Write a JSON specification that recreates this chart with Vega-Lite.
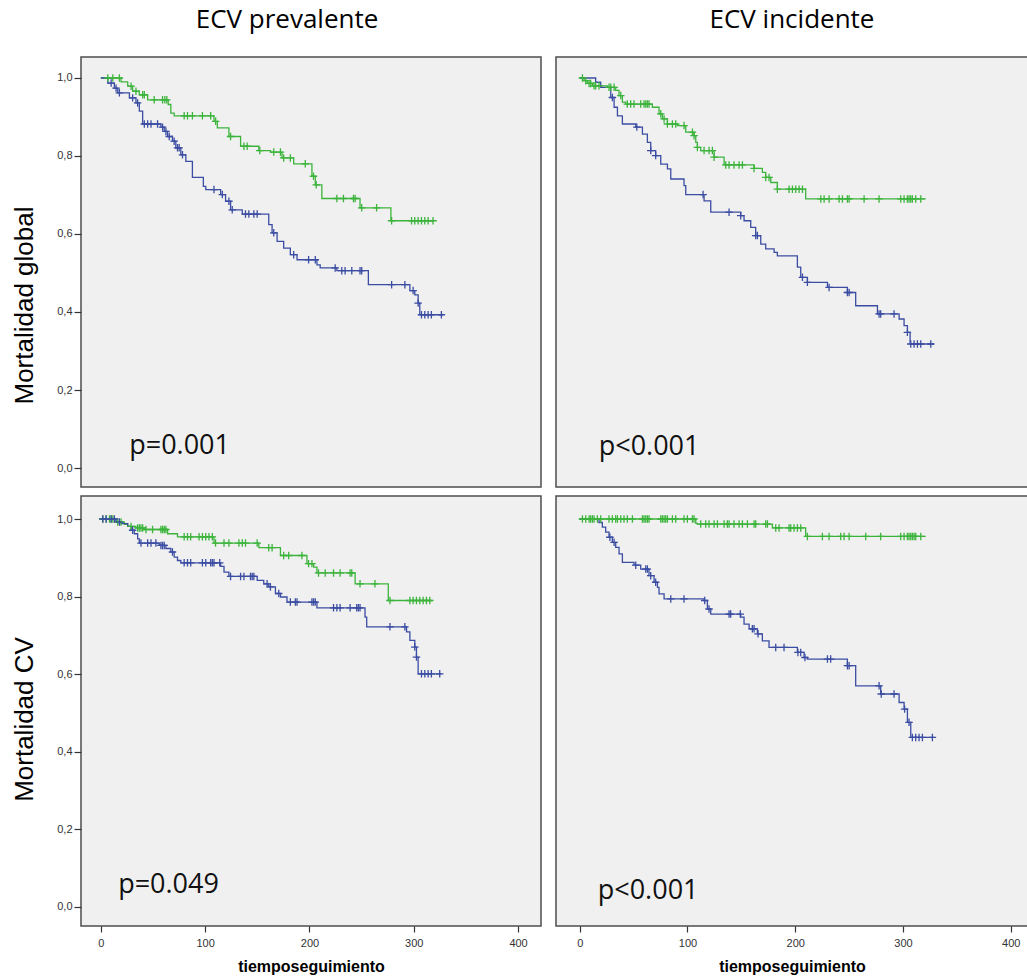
{
  "$schema": "https://vega.github.io/schema/vega-lite/v6.json",
  "background": "white",
  "padding": {"left": 10, "top": 6, "right": 0, "bottom": 0},
  "datasets": {
    "km": [
      {"p":"TL","g":"A","t":0,"s":1.0},{"p":"TL","g":"A","t":19.4,"s":0.990},{"p":"TL","g":"A","t":25.8,"s":0.979},{"p":"TL","g":"A","t":30.5,"s":0.966},{"p":"TL","g":"A","t":36.9,"s":0.957},{"p":"TL","g":"A","t":44.9,"s":0.944},{"p":"TL","g":"A","t":64.6,"s":0.932},{"p":"TL","g":"A","t":67.1,"s":0.910},{"p":"TL","g":"A","t":70.3,"s":0.903},{"p":"TL","g":"A","t":108.5,"s":0.889},{"p":"TL","g":"A","t":111.7,"s":0.872},{"p":"TL","g":"A","t":122.8,"s":0.850},{"p":"TL","g":"A","t":134.0,"s":0.825},{"p":"TL","g":"A","t":151.5,"s":0.814},{"p":"TL","g":"A","t":162.6,"s":0.810},{"p":"TL","g":"A","t":173.7,"s":0.795},{"p":"TL","g":"A","t":184.9,"s":0.780},{"p":"TL","g":"A","t":202.4,"s":0.748},{"p":"TL","g":"A","t":205.6,"s":0.726},{"p":"TL","g":"A","t":211.9,"s":0.691},{"p":"TL","g":"A","t":248.5,"s":0.667},{"p":"TL","g":"A","t":278.1,"s":0.634},{"p":"TL","g":"A","t":319.2,"s":0.634},
      {"p":"TL","g":"B","t":0,"s":1.0},{"p":"TL","g":"B","t":6.7,"s":0.987},{"p":"TL","g":"B","t":13.0,"s":0.974},{"p":"TL","g":"B","t":16.2,"s":0.962},{"p":"TL","g":"B","t":27.4,"s":0.949},{"p":"TL","g":"B","t":33.7,"s":0.936},{"p":"TL","g":"B","t":36.9,"s":0.915},{"p":"TL","g":"B","t":40.1,"s":0.882},{"p":"TL","g":"B","t":57.6,"s":0.874},{"p":"TL","g":"B","t":60.8,"s":0.863},{"p":"TL","g":"B","t":64.0,"s":0.850},{"p":"TL","g":"B","t":68.7,"s":0.838},{"p":"TL","g":"B","t":71.9,"s":0.821},{"p":"TL","g":"B","t":76.7,"s":0.803},{"p":"TL","g":"B","t":81.5,"s":0.786},{"p":"TL","g":"B","t":87.8,"s":0.745},{"p":"TL","g":"B","t":98.3,"s":0.722},{"p":"TL","g":"B","t":100.6,"s":0.714},{"p":"TL","g":"B","t":114.9,"s":0.701},{"p":"TL","g":"B","t":119.6,"s":0.684},{"p":"TL","g":"B","t":124.4,"s":0.662},{"p":"TL","g":"B","t":135.6,"s":0.651},{"p":"TL","g":"B","t":161.0,"s":0.624},{"p":"TL","g":"B","t":164.2,"s":0.603},{"p":"TL","g":"B","t":169.0,"s":0.581},{"p":"TL","g":"B","t":175.3,"s":0.564},{"p":"TL","g":"B","t":181.7,"s":0.547},{"p":"TL","g":"B","t":188.1,"s":0.534},{"p":"TL","g":"B","t":207.2,"s":0.521},{"p":"TL","g":"B","t":210.3,"s":0.513},{"p":"TL","g":"B","t":226.3,"s":0.506},{"p":"TL","g":"B","t":256.5,"s":0.470},{"p":"TL","g":"B","t":296.3,"s":0.455},{"p":"TL","g":"B","t":301.0,"s":0.444},{"p":"TL","g":"B","t":304.2,"s":0.423},{"p":"TL","g":"B","t":305.8,"s":0.393},{"p":"TL","g":"B","t":328.1,"s":0.393},
      {"p":"TR","g":"A","t":0,"s":1.0},{"p":"TR","g":"A","t":4.0,"s":0.993},{"p":"TR","g":"A","t":7.1,"s":0.986},{"p":"TR","g":"A","t":11.8,"s":0.980},{"p":"TR","g":"A","t":25.7,"s":0.976},{"p":"TR","g":"A","t":33.4,"s":0.968},{"p":"TR","g":"A","t":36.5,"s":0.955},{"p":"TR","g":"A","t":39.6,"s":0.938},{"p":"TR","g":"A","t":42.7,"s":0.933},{"p":"TR","g":"A","t":67.4,"s":0.925},{"p":"TR","g":"A","t":73.6,"s":0.908},{"p":"TR","g":"A","t":76.7,"s":0.895},{"p":"TR","g":"A","t":81.4,"s":0.882},{"p":"TR","g":"A","t":90.6,"s":0.878},{"p":"TR","g":"A","t":98.4,"s":0.861},{"p":"TR","g":"A","t":106.1,"s":0.852},{"p":"TR","g":"A","t":107.7,"s":0.835},{"p":"TR","g":"A","t":109.2,"s":0.822},{"p":"TR","g":"A","t":112.3,"s":0.814},{"p":"TR","g":"A","t":124.7,"s":0.797},{"p":"TR","g":"A","t":134.0,"s":0.777},{"p":"TR","g":"A","t":161.8,"s":0.768},{"p":"TR","g":"A","t":169.5,"s":0.758},{"p":"TR","g":"A","t":172.6,"s":0.745},{"p":"TR","g":"A","t":177.3,"s":0.732},{"p":"TR","g":"A","t":183.4,"s":0.715},{"p":"TR","g":"A","t":209.7,"s":0.690},{"p":"TR","g":"A","t":321.1,"s":0.690},
      {"p":"TR","g":"B","t":0,"s":1.0},{"p":"TR","g":"B","t":14.8,"s":0.989},{"p":"TR","g":"B","t":19.5,"s":0.976},{"p":"TR","g":"B","t":28.8,"s":0.950},{"p":"TR","g":"B","t":31.9,"s":0.925},{"p":"TR","g":"B","t":35.0,"s":0.903},{"p":"TR","g":"B","t":39.6,"s":0.882},{"p":"TR","g":"B","t":52.0,"s":0.874},{"p":"TR","g":"B","t":58.2,"s":0.856},{"p":"TR","g":"B","t":62.8,"s":0.835},{"p":"TR","g":"B","t":65.9,"s":0.814},{"p":"TR","g":"B","t":70.5,"s":0.801},{"p":"TR","g":"B","t":75.2,"s":0.779},{"p":"TR","g":"B","t":81.4,"s":0.767},{"p":"TR","g":"B","t":84.5,"s":0.741},{"p":"TR","g":"B","t":96.8,"s":0.724},{"p":"TR","g":"B","t":98.4,"s":0.701},{"p":"TR","g":"B","t":115.4,"s":0.685},{"p":"TR","g":"B","t":121.6,"s":0.656},{"p":"TR","g":"B","t":149.4,"s":0.647},{"p":"TR","g":"B","t":152.5,"s":0.634},{"p":"TR","g":"B","t":158.7,"s":0.617},{"p":"TR","g":"B","t":163.3,"s":0.596},{"p":"TR","g":"B","t":168.0,"s":0.574},{"p":"TR","g":"B","t":172.6,"s":0.562},{"p":"TR","g":"B","t":180.4,"s":0.553},{"p":"TR","g":"B","t":183.4,"s":0.544},{"p":"TR","g":"B","t":202.0,"s":0.515},{"p":"TR","g":"B","t":205.1,"s":0.489},{"p":"TR","g":"B","t":211.3,"s":0.476},{"p":"TR","g":"B","t":229.9,"s":0.463},{"p":"TR","g":"B","t":248.4,"s":0.450},{"p":"TR","g":"B","t":256.1,"s":0.416},{"p":"TR","g":"B","t":276.3,"s":0.395},{"p":"TR","g":"B","t":296.4,"s":0.382},{"p":"TR","g":"B","t":301.0,"s":0.365},{"p":"TR","g":"B","t":304.1,"s":0.348},{"p":"TR","g":"B","t":306.6,"s":0.318},{"p":"TR","g":"B","t":328.8,"s":0.318},
      {"p":"BL","g":"A","t":0,"s":1.0},{"p":"BL","g":"A","t":14.6,"s":0.992},{"p":"BL","g":"A","t":22.6,"s":0.986},{"p":"BL","g":"A","t":25.8,"s":0.981},{"p":"BL","g":"A","t":33.7,"s":0.977},{"p":"BL","g":"A","t":41.7,"s":0.973},{"p":"BL","g":"A","t":64.0,"s":0.962},{"p":"BL","g":"A","t":73.5,"s":0.954},{"p":"BL","g":"A","t":108.5,"s":0.938},{"p":"BL","g":"A","t":151.5,"s":0.926},{"p":"BL","g":"A","t":172.2,"s":0.906},{"p":"BL","g":"A","t":197.6,"s":0.885},{"p":"BL","g":"A","t":204.0,"s":0.876},{"p":"BL","g":"A","t":207.2,"s":0.861},{"p":"BL","g":"A","t":243.8,"s":0.833},{"p":"BL","g":"A","t":275.6,"s":0.790},{"p":"BL","g":"A","t":317.9,"s":0.790},
      {"p":"BL","g":"B","t":0,"s":1.0},{"p":"BL","g":"B","t":14.6,"s":0.992},{"p":"BL","g":"B","t":19.4,"s":0.988},{"p":"BL","g":"B","t":25.8,"s":0.981},{"p":"BL","g":"B","t":29.0,"s":0.971},{"p":"BL","g":"B","t":32.1,"s":0.962},{"p":"BL","g":"B","t":35.3,"s":0.949},{"p":"BL","g":"B","t":36.9,"s":0.938},{"p":"BL","g":"B","t":56.0,"s":0.932},{"p":"BL","g":"B","t":62.4,"s":0.924},{"p":"BL","g":"B","t":67.1,"s":0.915},{"p":"BL","g":"B","t":70.3,"s":0.902},{"p":"BL","g":"B","t":73.5,"s":0.893},{"p":"BL","g":"B","t":76.7,"s":0.887},{"p":"BL","g":"B","t":114.9,"s":0.878},{"p":"BL","g":"B","t":118.1,"s":0.863},{"p":"BL","g":"B","t":122.8,"s":0.852},{"p":"BL","g":"B","t":149.9,"s":0.842},{"p":"BL","g":"B","t":156.2,"s":0.833},{"p":"BL","g":"B","t":161.0,"s":0.825},{"p":"BL","g":"B","t":167.4,"s":0.808},{"p":"BL","g":"B","t":172.2,"s":0.799},{"p":"BL","g":"B","t":178.5,"s":0.786},{"p":"BL","g":"B","t":207.2,"s":0.771},{"p":"BL","g":"B","t":253.3,"s":0.747},{"p":"BL","g":"B","t":254.9,"s":0.722},{"p":"BL","g":"B","t":293.1,"s":0.709},{"p":"BL","g":"B","t":296.3,"s":0.687},{"p":"BL","g":"B","t":301.0,"s":0.670},{"p":"BL","g":"B","t":302.6,"s":0.644},{"p":"BL","g":"B","t":304.2,"s":0.601},{"p":"BL","g":"B","t":326.5,"s":0.601},
      {"p":"BR","g":"A","t":0,"s":1.0},{"p":"BR","g":"A","t":107.7,"s":0.989},{"p":"BR","g":"A","t":109.2,"s":0.987},{"p":"BR","g":"A","t":178.8,"s":0.977},{"p":"BR","g":"A","t":209.7,"s":0.955},{"p":"BR","g":"A","t":321.1,"s":0.955},
      {"p":"BR","g":"B","t":0,"s":1.0},{"p":"BR","g":"B","t":17.9,"s":0.991},{"p":"BR","g":"B","t":21.0,"s":0.979},{"p":"BR","g":"B","t":24.1,"s":0.966},{"p":"BR","g":"B","t":27.2,"s":0.953},{"p":"BR","g":"B","t":30.3,"s":0.940},{"p":"BR","g":"B","t":33.4,"s":0.927},{"p":"BR","g":"B","t":36.5,"s":0.910},{"p":"BR","g":"B","t":39.6,"s":0.888},{"p":"BR","g":"B","t":50.4,"s":0.881},{"p":"BR","g":"B","t":56.6,"s":0.871},{"p":"BR","g":"B","t":64.3,"s":0.854},{"p":"BR","g":"B","t":69.0,"s":0.837},{"p":"BR","g":"B","t":72.1,"s":0.824},{"p":"BR","g":"B","t":73.6,"s":0.807},{"p":"BR","g":"B","t":78.3,"s":0.794},{"p":"BR","g":"B","t":115.4,"s":0.790},{"p":"BR","g":"B","t":118.5,"s":0.768},{"p":"BR","g":"B","t":121.6,"s":0.755},{"p":"BR","g":"B","t":149.4,"s":0.747},{"p":"BR","g":"B","t":152.5,"s":0.729},{"p":"BR","g":"B","t":157.2,"s":0.717},{"p":"BR","g":"B","t":164.9,"s":0.704},{"p":"BR","g":"B","t":169.5,"s":0.686},{"p":"BR","g":"B","t":175.7,"s":0.669},{"p":"BR","g":"B","t":202.0,"s":0.656},{"p":"BR","g":"B","t":208.2,"s":0.643},{"p":"BR","g":"B","t":211.3,"s":0.639},{"p":"BR","g":"B","t":248.4,"s":0.622},{"p":"BR","g":"B","t":256.1,"s":0.570},{"p":"BR","g":"B","t":279.3,"s":0.549},{"p":"BR","g":"B","t":296.4,"s":0.527},{"p":"BR","g":"B","t":301.0,"s":0.510},{"p":"BR","g":"B","t":304.1,"s":0.476},{"p":"BR","g":"B","t":307.2,"s":0.437},{"p":"BR","g":"B","t":328.8,"s":0.437}
    ],
    "cz": [
      {"p":"TL","g":"A","t":6.7,"s":1.0},{"p":"TL","g":"A","t":11.5,"s":1.0},{"p":"TL","g":"A","t":17.8,"s":1.0},{"p":"TL","g":"A","t":29.0,"s":0.979},{"p":"TL","g":"A","t":33.7,"s":0.966},{"p":"TL","g":"A","t":40.1,"s":0.957},{"p":"TL","g":"A","t":41.7,"s":0.957},{"p":"TL","g":"A","t":51.2,"s":0.944},{"p":"TL","g":"A","t":59.2,"s":0.944},{"p":"TL","g":"A","t":61.4,"s":0.944},{"p":"TL","g":"A","t":63.3,"s":0.944},{"p":"TL","g":"A","t":79.9,"s":0.903},{"p":"TL","g":"A","t":83.1,"s":0.903},{"p":"TL","g":"A","t":87.8,"s":0.903},{"p":"TL","g":"A","t":97.4,"s":0.903},{"p":"TL","g":"A","t":105.3,"s":0.903},{"p":"TL","g":"A","t":110.1,"s":0.889},{"p":"TL","g":"A","t":124.4,"s":0.850},{"p":"TL","g":"A","t":137.2,"s":0.825},{"p":"TL","g":"A","t":140.3,"s":0.825},{"p":"TL","g":"A","t":152.4,"s":0.814},{"p":"TL","g":"A","t":165.8,"s":0.810},{"p":"TL","g":"A","t":172.2,"s":0.810},{"p":"TL","g":"A","t":175.3,"s":0.795},{"p":"TL","g":"A","t":181.7,"s":0.795},{"p":"TL","g":"A","t":196.0,"s":0.780},{"p":"TL","g":"A","t":203.9,"s":0.748},{"p":"TL","g":"A","t":206.5,"s":0.726},{"p":"TL","g":"A","t":226.3,"s":0.691},{"p":"TL","g":"A","t":232.6,"s":0.691},{"p":"TL","g":"A","t":242.2,"s":0.691},{"p":"TL","g":"A","t":243.8,"s":0.691},{"p":"TL","g":"A","t":250.1,"s":0.667},{"p":"TL","g":"A","t":264.4,"s":0.667},{"p":"TL","g":"A","t":278.8,"s":0.634},{"p":"TL","g":"A","t":297.9,"s":0.634},{"p":"TL","g":"A","t":301.0,"s":0.634},{"p":"TL","g":"A","t":304.2,"s":0.634},{"p":"TL","g":"A","t":307.4,"s":0.634},{"p":"TL","g":"A","t":310.6,"s":0.634},{"p":"TL","g":"A","t":313.8,"s":0.634},{"p":"TL","g":"A","t":318.5,"s":0.634},
      {"p":"TL","g":"B","t":9.9,"s":0.987},{"p":"TL","g":"B","t":14.6,"s":0.974},{"p":"TL","g":"B","t":17.8,"s":0.962},{"p":"TL","g":"B","t":30.5,"s":0.949},{"p":"TL","g":"B","t":35.3,"s":0.936},{"p":"TL","g":"B","t":41.7,"s":0.882},{"p":"TL","g":"B","t":44.9,"s":0.882},{"p":"TL","g":"B","t":48.1,"s":0.882},{"p":"TL","g":"B","t":54.4,"s":0.882},{"p":"TL","g":"B","t":59.2,"s":0.874},{"p":"TL","g":"B","t":62.4,"s":0.863},{"p":"TL","g":"B","t":65.6,"s":0.850},{"p":"TL","g":"B","t":70.3,"s":0.838},{"p":"TL","g":"B","t":73.5,"s":0.821},{"p":"TL","g":"B","t":75.1,"s":0.821},{"p":"TL","g":"B","t":78.3,"s":0.803},{"p":"TL","g":"B","t":108.5,"s":0.714},{"p":"TL","g":"B","t":116.5,"s":0.701},{"p":"TL","g":"B","t":122.8,"s":0.684},{"p":"TL","g":"B","t":126.0,"s":0.662},{"p":"TL","g":"B","t":138.7,"s":0.651},{"p":"TL","g":"B","t":141.9,"s":0.651},{"p":"TL","g":"B","t":146.7,"s":0.651},{"p":"TL","g":"B","t":149.9,"s":0.651},{"p":"TL","g":"B","t":165.8,"s":0.603},{"p":"TL","g":"B","t":184.9,"s":0.547},{"p":"TL","g":"B","t":199.2,"s":0.534},{"p":"TL","g":"B","t":205.6,"s":0.534},{"p":"TL","g":"B","t":224.7,"s":0.513},{"p":"TL","g":"B","t":231.0,"s":0.506},{"p":"TL","g":"B","t":234.2,"s":0.506},{"p":"TL","g":"B","t":240.6,"s":0.506},{"p":"TL","g":"B","t":248.5,"s":0.506},{"p":"TL","g":"B","t":250.1,"s":0.506},{"p":"TL","g":"B","t":278.8,"s":0.470},{"p":"TL","g":"B","t":291.5,"s":0.470},{"p":"TL","g":"B","t":299.4,"s":0.455},{"p":"TL","g":"B","t":304.2,"s":0.423},{"p":"TL","g":"B","t":307.4,"s":0.393},{"p":"TL","g":"B","t":310.6,"s":0.393},{"p":"TL","g":"B","t":313.8,"s":0.393},{"p":"TL","g":"B","t":316.9,"s":0.393},{"p":"TL","g":"B","t":326.5,"s":0.393},
      {"p":"TR","g":"A","t":2.5,"s":1.0},{"p":"TR","g":"A","t":5.6,"s":0.993},{"p":"TR","g":"A","t":8.7,"s":0.986},{"p":"TR","g":"A","t":10.2,"s":0.986},{"p":"TR","g":"A","t":13.3,"s":0.980},{"p":"TR","g":"A","t":14.8,"s":0.980},{"p":"TR","g":"A","t":17.9,"s":0.980},{"p":"TR","g":"A","t":27.2,"s":0.976},{"p":"TR","g":"A","t":28.8,"s":0.976},{"p":"TR","g":"A","t":31.9,"s":0.976},{"p":"TR","g":"A","t":38.1,"s":0.955},{"p":"TR","g":"A","t":44.2,"s":0.933},{"p":"TR","g":"A","t":47.3,"s":0.933},{"p":"TR","g":"A","t":50.4,"s":0.933},{"p":"TR","g":"A","t":56.6,"s":0.933},{"p":"TR","g":"A","t":59.7,"s":0.933},{"p":"TR","g":"A","t":61.3,"s":0.933},{"p":"TR","g":"A","t":62.8,"s":0.933},{"p":"TR","g":"A","t":64.3,"s":0.933},{"p":"TR","g":"A","t":75.2,"s":0.908},{"p":"TR","g":"A","t":78.3,"s":0.895},{"p":"TR","g":"A","t":81.4,"s":0.882},{"p":"TR","g":"A","t":86.0,"s":0.882},{"p":"TR","g":"A","t":89.1,"s":0.882},{"p":"TR","g":"A","t":96.8,"s":0.878},{"p":"TR","g":"A","t":104.6,"s":0.861},{"p":"TR","g":"A","t":106.1,"s":0.852},{"p":"TR","g":"A","t":109.2,"s":0.822},{"p":"TR","g":"A","t":115.4,"s":0.814},{"p":"TR","g":"A","t":120.0,"s":0.814},{"p":"TR","g":"A","t":123.1,"s":0.814},{"p":"TR","g":"A","t":124.7,"s":0.797},{"p":"TR","g":"A","t":135.5,"s":0.777},{"p":"TR","g":"A","t":138.6,"s":0.777},{"p":"TR","g":"A","t":143.2,"s":0.777},{"p":"TR","g":"A","t":147.9,"s":0.777},{"p":"TR","g":"A","t":151.0,"s":0.777},{"p":"TR","g":"A","t":161.8,"s":0.768},{"p":"TR","g":"A","t":172.6,"s":0.745},{"p":"TR","g":"A","t":175.7,"s":0.745},{"p":"TR","g":"A","t":183.4,"s":0.715},{"p":"TR","g":"A","t":194.3,"s":0.715},{"p":"TR","g":"A","t":197.4,"s":0.715},{"p":"TR","g":"A","t":200.5,"s":0.715},{"p":"TR","g":"A","t":203.6,"s":0.715},{"p":"TR","g":"A","t":206.7,"s":0.715},{"p":"TR","g":"A","t":223.7,"s":0.690},{"p":"TR","g":"A","t":226.8,"s":0.690},{"p":"TR","g":"A","t":231.4,"s":0.690},{"p":"TR","g":"A","t":240.7,"s":0.690},{"p":"TR","g":"A","t":243.8,"s":0.690},{"p":"TR","g":"A","t":248.4,"s":0.690},{"p":"TR","g":"A","t":250.0,"s":0.690},{"p":"TR","g":"A","t":263.9,"s":0.690},{"p":"TR","g":"A","t":277.8,"s":0.690},{"p":"TR","g":"A","t":297.9,"s":0.690},{"p":"TR","g":"A","t":301.0,"s":0.690},{"p":"TR","g":"A","t":304.1,"s":0.690},{"p":"TR","g":"A","t":305.6,"s":0.690},{"p":"TR","g":"A","t":307.2,"s":0.690},{"p":"TR","g":"A","t":308.7,"s":0.690},{"p":"TR","g":"A","t":311.8,"s":0.690},{"p":"TR","g":"A","t":316.5,"s":0.690},
      {"p":"TR","g":"B","t":30.3,"s":0.950},{"p":"TR","g":"B","t":53.0,"s":0.874},{"p":"TR","g":"B","t":65.9,"s":0.814},{"p":"TR","g":"B","t":70.5,"s":0.801},{"p":"TR","g":"B","t":114.5,"s":0.701},{"p":"TR","g":"B","t":138.6,"s":0.656},{"p":"TR","g":"B","t":149.4,"s":0.647},{"p":"TR","g":"B","t":163.3,"s":0.596},{"p":"TR","g":"B","t":164.9,"s":0.596},{"p":"TR","g":"B","t":206.7,"s":0.489},{"p":"TR","g":"B","t":211.3,"s":0.476},{"p":"TR","g":"B","t":231.4,"s":0.463},{"p":"TR","g":"B","t":248.4,"s":0.450},{"p":"TR","g":"B","t":250.0,"s":0.450},{"p":"TR","g":"B","t":277.8,"s":0.395},{"p":"TR","g":"B","t":279.3,"s":0.395},{"p":"TR","g":"B","t":291.7,"s":0.395},{"p":"TR","g":"B","t":304.1,"s":0.348},{"p":"TR","g":"B","t":307.2,"s":0.318},{"p":"TR","g":"B","t":310.3,"s":0.318},{"p":"TR","g":"B","t":313.4,"s":0.318},{"p":"TR","g":"B","t":316.5,"s":0.318},{"p":"TR","g":"B","t":325.8,"s":0.318},
      {"p":"BL","g":"A","t":1.9,"s":1.0},{"p":"BL","g":"A","t":5.1,"s":1.0},{"p":"BL","g":"A","t":8.3,"s":1.0},{"p":"BL","g":"A","t":9.9,"s":1.0},{"p":"BL","g":"A","t":11.5,"s":1.0},{"p":"BL","g":"A","t":16.2,"s":0.992},{"p":"BL","g":"A","t":19.4,"s":0.992},{"p":"BL","g":"A","t":29.0,"s":0.981},{"p":"BL","g":"A","t":35.3,"s":0.977},{"p":"BL","g":"A","t":36.9,"s":0.977},{"p":"BL","g":"A","t":38.5,"s":0.977},{"p":"BL","g":"A","t":40.1,"s":0.977},{"p":"BL","g":"A","t":43.3,"s":0.973},{"p":"BL","g":"A","t":49.6,"s":0.973},{"p":"BL","g":"A","t":57.6,"s":0.973},{"p":"BL","g":"A","t":59.2,"s":0.973},{"p":"BL","g":"A","t":60.8,"s":0.973},{"p":"BL","g":"A","t":62.4,"s":0.973},{"p":"BL","g":"A","t":79.9,"s":0.954},{"p":"BL","g":"A","t":83.1,"s":0.954},{"p":"BL","g":"A","t":86.2,"s":0.954},{"p":"BL","g":"A","t":94.2,"s":0.954},{"p":"BL","g":"A","t":97.4,"s":0.954},{"p":"BL","g":"A","t":100.6,"s":0.954},{"p":"BL","g":"A","t":103.7,"s":0.954},{"p":"BL","g":"A","t":106.9,"s":0.954},{"p":"BL","g":"A","t":110.0,"s":0.938},{"p":"BL","g":"A","t":118.1,"s":0.938},{"p":"BL","g":"A","t":122.8,"s":0.938},{"p":"BL","g":"A","t":132.4,"s":0.938},{"p":"BL","g":"A","t":135.6,"s":0.938},{"p":"BL","g":"A","t":138.7,"s":0.938},{"p":"BL","g":"A","t":149.9,"s":0.938},{"p":"BL","g":"A","t":161.0,"s":0.926},{"p":"BL","g":"A","t":164.2,"s":0.926},{"p":"BL","g":"A","t":175.3,"s":0.906},{"p":"BL","g":"A","t":180.1,"s":0.906},{"p":"BL","g":"A","t":192.8,"s":0.906},{"p":"BL","g":"A","t":199.2,"s":0.885},{"p":"BL","g":"A","t":202.4,"s":0.885},{"p":"BL","g":"A","t":208.7,"s":0.861},{"p":"BL","g":"A","t":215.1,"s":0.861},{"p":"BL","g":"A","t":223.1,"s":0.861},{"p":"BL","g":"A","t":229.4,"s":0.861},{"p":"BL","g":"A","t":239.0,"s":0.861},{"p":"BL","g":"A","t":240.6,"s":0.861},{"p":"BL","g":"A","t":248.5,"s":0.833},{"p":"BL","g":"A","t":262.8,"s":0.833},{"p":"BL","g":"A","t":277.2,"s":0.790},{"p":"BL","g":"A","t":296.3,"s":0.790},{"p":"BL","g":"A","t":299.4,"s":0.790},{"p":"BL","g":"A","t":302.6,"s":0.790},{"p":"BL","g":"A","t":305.8,"s":0.790},{"p":"BL","g":"A","t":309.0,"s":0.790},{"p":"BL","g":"A","t":312.2,"s":0.790},{"p":"BL","g":"A","t":315.4,"s":0.790},
      {"p":"BL","g":"B","t":1.9,"s":1.0},{"p":"BL","g":"B","t":5.1,"s":1.0},{"p":"BL","g":"B","t":9.9,"s":1.0},{"p":"BL","g":"B","t":13.0,"s":1.0},{"p":"BL","g":"B","t":17.8,"s":0.992},{"p":"BL","g":"B","t":30.5,"s":0.971},{"p":"BL","g":"B","t":38.5,"s":0.938},{"p":"BL","g":"B","t":44.9,"s":0.938},{"p":"BL","g":"B","t":48.1,"s":0.938},{"p":"BL","g":"B","t":52.8,"s":0.938},{"p":"BL","g":"B","t":57.6,"s":0.932},{"p":"BL","g":"B","t":59.2,"s":0.932},{"p":"BL","g":"B","t":60.8,"s":0.932},{"p":"BL","g":"B","t":68.7,"s":0.915},{"p":"BL","g":"B","t":79.9,"s":0.887},{"p":"BL","g":"B","t":83.1,"s":0.887},{"p":"BL","g":"B","t":86.2,"s":0.887},{"p":"BL","g":"B","t":97.4,"s":0.887},{"p":"BL","g":"B","t":100.6,"s":0.887},{"p":"BL","g":"B","t":105.3,"s":0.887},{"p":"BL","g":"B","t":106.9,"s":0.887},{"p":"BL","g":"B","t":108.5,"s":0.887},{"p":"BL","g":"B","t":114.0,"s":0.887},{"p":"BL","g":"B","t":124.4,"s":0.852},{"p":"BL","g":"B","t":134.0,"s":0.852},{"p":"BL","g":"B","t":137.2,"s":0.852},{"p":"BL","g":"B","t":143.5,"s":0.852},{"p":"BL","g":"B","t":145.1,"s":0.852},{"p":"BL","g":"B","t":146.7,"s":0.852},{"p":"BL","g":"B","t":159.4,"s":0.833},{"p":"BL","g":"B","t":162.6,"s":0.825},{"p":"BL","g":"B","t":170.6,"s":0.808},{"p":"BL","g":"B","t":181.7,"s":0.786},{"p":"BL","g":"B","t":186.5,"s":0.786},{"p":"BL","g":"B","t":188.1,"s":0.786},{"p":"BL","g":"B","t":202.4,"s":0.786},{"p":"BL","g":"B","t":204.0,"s":0.786},{"p":"BL","g":"B","t":205.6,"s":0.786},{"p":"BL","g":"B","t":223.1,"s":0.771},{"p":"BL","g":"B","t":226.3,"s":0.771},{"p":"BL","g":"B","t":229.4,"s":0.771},{"p":"BL","g":"B","t":239.0,"s":0.771},{"p":"BL","g":"B","t":245.3,"s":0.771},{"p":"BL","g":"B","t":246.9,"s":0.771},{"p":"BL","g":"B","t":248.5,"s":0.771},{"p":"BL","g":"B","t":277.2,"s":0.722},{"p":"BL","g":"B","t":291.5,"s":0.722},{"p":"BL","g":"B","t":301.0,"s":0.670},{"p":"BL","g":"B","t":302.6,"s":0.644},{"p":"BL","g":"B","t":307.4,"s":0.601},{"p":"BL","g":"B","t":310.6,"s":0.601},{"p":"BL","g":"B","t":313.8,"s":0.601},{"p":"BL","g":"B","t":316.9,"s":0.601},{"p":"BL","g":"B","t":324.9,"s":0.601},
      {"p":"BR","g":"A","t":2.5,"s":1.0},{"p":"BR","g":"A","t":5.6,"s":1.0},{"p":"BR","g":"A","t":8.7,"s":1.0},{"p":"BR","g":"A","t":10.2,"s":1.0},{"p":"BR","g":"A","t":11.8,"s":1.0},{"p":"BR","g":"A","t":13.3,"s":1.0},{"p":"BR","g":"A","t":16.4,"s":1.0},{"p":"BR","g":"A","t":19.5,"s":1.0},{"p":"BR","g":"A","t":27.2,"s":1.0},{"p":"BR","g":"A","t":30.3,"s":1.0},{"p":"BR","g":"A","t":33.4,"s":1.0},{"p":"BR","g":"A","t":35.0,"s":1.0},{"p":"BR","g":"A","t":38.1,"s":1.0},{"p":"BR","g":"A","t":41.1,"s":1.0},{"p":"BR","g":"A","t":44.2,"s":1.0},{"p":"BR","g":"A","t":48.9,"s":1.0},{"p":"BR","g":"A","t":58.2,"s":1.0},{"p":"BR","g":"A","t":59.7,"s":1.0},{"p":"BR","g":"A","t":61.3,"s":1.0},{"p":"BR","g":"A","t":62.8,"s":1.0},{"p":"BR","g":"A","t":64.3,"s":1.0},{"p":"BR","g":"A","t":75.2,"s":1.0},{"p":"BR","g":"A","t":76.7,"s":1.0},{"p":"BR","g":"A","t":78.3,"s":1.0},{"p":"BR","g":"A","t":79.8,"s":1.0},{"p":"BR","g":"A","t":81.4,"s":1.0},{"p":"BR","g":"A","t":86.0,"s":1.0},{"p":"BR","g":"A","t":89.1,"s":1.0},{"p":"BR","g":"A","t":96.8,"s":1.0},{"p":"BR","g":"A","t":99.9,"s":1.0},{"p":"BR","g":"A","t":104.6,"s":1.0},{"p":"BR","g":"A","t":106.1,"s":1.0},{"p":"BR","g":"A","t":112.3,"s":0.987},{"p":"BR","g":"A","t":116.9,"s":0.987},{"p":"BR","g":"A","t":120.0,"s":0.987},{"p":"BR","g":"A","t":124.7,"s":0.987},{"p":"BR","g":"A","t":127.8,"s":0.987},{"p":"BR","g":"A","t":134.0,"s":0.987},{"p":"BR","g":"A","t":137.0,"s":0.987},{"p":"BR","g":"A","t":138.6,"s":0.987},{"p":"BR","g":"A","t":143.2,"s":0.987},{"p":"BR","g":"A","t":147.9,"s":0.987},{"p":"BR","g":"A","t":151.0,"s":0.987},{"p":"BR","g":"A","t":155.6,"s":0.987},{"p":"BR","g":"A","t":161.8,"s":0.987},{"p":"BR","g":"A","t":163.3,"s":0.987},{"p":"BR","g":"A","t":172.6,"s":0.987},{"p":"BR","g":"A","t":174.2,"s":0.987},{"p":"BR","g":"A","t":181.9,"s":0.977},{"p":"BR","g":"A","t":185.0,"s":0.977},{"p":"BR","g":"A","t":194.3,"s":0.977},{"p":"BR","g":"A","t":195.8,"s":0.977},{"p":"BR","g":"A","t":198.9,"s":0.977},{"p":"BR","g":"A","t":202.0,"s":0.977},{"p":"BR","g":"A","t":205.1,"s":0.977},{"p":"BR","g":"A","t":211.3,"s":0.955},{"p":"BR","g":"A","t":225.2,"s":0.955},{"p":"BR","g":"A","t":231.4,"s":0.955},{"p":"BR","g":"A","t":242.2,"s":0.955},{"p":"BR","g":"A","t":245.3,"s":0.955},{"p":"BR","g":"A","t":250.0,"s":0.955},{"p":"BR","g":"A","t":265.4,"s":0.955},{"p":"BR","g":"A","t":279.3,"s":0.955},{"p":"BR","g":"A","t":297.9,"s":0.955},{"p":"BR","g":"A","t":301.0,"s":0.955},{"p":"BR","g":"A","t":304.1,"s":0.955},{"p":"BR","g":"A","t":305.6,"s":0.955},{"p":"BR","g":"A","t":307.2,"s":0.955},{"p":"BR","g":"A","t":308.7,"s":0.955},{"p":"BR","g":"A","t":310.3,"s":0.955},{"p":"BR","g":"A","t":311.8,"s":0.955},{"p":"BR","g":"A","t":316.5,"s":0.955},
      {"p":"BR","g":"B","t":28.0,"s":0.953},{"p":"BR","g":"B","t":31.9,"s":0.940},{"p":"BR","g":"B","t":52.0,"s":0.881},{"p":"BR","g":"B","t":61.3,"s":0.871},{"p":"BR","g":"B","t":62.8,"s":0.871},{"p":"BR","g":"B","t":65.9,"s":0.854},{"p":"BR","g":"B","t":70.5,"s":0.837},{"p":"BR","g":"B","t":84.5,"s":0.794},{"p":"BR","g":"B","t":96.8,"s":0.794},{"p":"BR","g":"B","t":116.0,"s":0.790},{"p":"BR","g":"B","t":120.0,"s":0.768},{"p":"BR","g":"B","t":138.6,"s":0.755},{"p":"BR","g":"B","t":140.1,"s":0.755},{"p":"BR","g":"B","t":149.0,"s":0.755},{"p":"BR","g":"B","t":160.2,"s":0.717},{"p":"BR","g":"B","t":161.8,"s":0.717},{"p":"BR","g":"B","t":165.5,"s":0.704},{"p":"BR","g":"B","t":181.9,"s":0.669},{"p":"BR","g":"B","t":189.6,"s":0.669},{"p":"BR","g":"B","t":202.5,"s":0.656},{"p":"BR","g":"B","t":205.1,"s":0.656},{"p":"BR","g":"B","t":209.0,"s":0.643},{"p":"BR","g":"B","t":229.9,"s":0.639},{"p":"BR","g":"B","t":232.9,"s":0.639},{"p":"BR","g":"B","t":248.4,"s":0.622},{"p":"BR","g":"B","t":250.0,"s":0.622},{"p":"BR","g":"B","t":277.8,"s":0.570},{"p":"BR","g":"B","t":279.8,"s":0.549},{"p":"BR","g":"B","t":291.7,"s":0.549},{"p":"BR","g":"B","t":301.5,"s":0.510},{"p":"BR","g":"B","t":305.6,"s":0.476},{"p":"BR","g":"B","t":308.7,"s":0.437},{"p":"BR","g":"B","t":311.8,"s":0.437},{"p":"BR","g":"B","t":314.9,"s":0.437},{"p":"BR","g":"B","t":318.0,"s":0.437},{"p":"BR","g":"B","t":327.3,"s":0.437}
    ],
    "pv": [
      {"p":"TL","label":"p=0.001","t":27.2,"s":0.036},
      {"p":"TR","label":"p<0.001","t":17.6,"s":0.033},
      {"p":"BL","label":"p=0.049","t":16.6,"s":0.036},
      {"p":"BR","label":"p<0.001","t":16.7,"s":0.021}
    ]
  },
  "concat": [
    {
      "width": 460, "height": 430,
      "title": {"text": "ECV prevalente", "dx": -24},
      "encoding": {
        "x": {"field": "t", "type": "quantitative", "scale": {"domain": [-19, 422], "nice": false, "zero": false}, "axis": null},
        "y": {"field": "s", "type": "quantitative", "scale": {"domain": [-0.0487, 1.0538], "nice": false, "zero": false},
              "axis": {"values": [0, 0.2, 0.4, 0.6, 0.8, 1.0], "labelExpr": "replace(format(datum.value, '.1f'), '.', ',')", "title": "Mortalidad global", "titleX": -49, "titleY": 248, "titleAngle": -90, "titleAlign": "center", "titleBaseline": "alphabetic"}}
      },
      "layer": [
        {"data": {"name": "km"}, "transform": [{"filter": "datum.p === 'TL'"}],
         "mark": {"type": "line", "interpolate": "step-after", "strokeWidth": 1.3},
         "encoding": {"color": {"field": "g", "type": "nominal", "scale": {"domain": ["A", "B"], "range": ["#3cb43c", "#3b4da3"]}, "legend": null}}},
        {"data": {"name": "cz"}, "transform": [{"filter": "datum.p === 'TL'"}],
         "mark": {"type": "point", "shape": "M-1,0H1M0,-1V1", "size": 56, "strokeWidth": 1.3, "filled": false, "opacity": 1},
         "encoding": {"color": {"field": "g", "type": "nominal", "scale": {"domain": ["A", "B"], "range": ["#3cb43c", "#3b4da3"]}, "legend": null}}},
        {"data": {"name": "pv"}, "transform": [{"filter": "datum.p === 'TL'"}],
         "mark": {"type": "text", "font": "Open Sans", "fontSize": 27, "align": "left", "baseline": "alphabetic", "color": "#111"},
         "encoding": {"text": {"field": "label"}}}
      ]
    },
    {
      "width": 472, "height": 430,
      "title": {"text": "ECV incidente"},
      "encoding": {
        "x": {"field": "t", "type": "quantitative", "scale": {"domain": [-22, 416], "nice": false, "zero": false}, "axis": null},
        "y": {"field": "s", "type": "quantitative", "scale": {"domain": [-0.0487, 1.0538], "nice": false, "zero": false}, "axis": null}
      },
      "layer": [
        {"data": {"name": "km"}, "transform": [{"filter": "datum.p === 'TR'"}],
         "mark": {"type": "line", "interpolate": "step-after", "strokeWidth": 1.3},
         "encoding": {"color": {"field": "g", "type": "nominal", "scale": {"domain": ["A", "B"], "range": ["#3cb43c", "#3b4da3"]}, "legend": null}}},
        {"data": {"name": "cz"}, "transform": [{"filter": "datum.p === 'TR'"}],
         "mark": {"type": "point", "shape": "M-1,0H1M0,-1V1", "size": 56, "strokeWidth": 1.3, "filled": false, "opacity": 1},
         "encoding": {"color": {"field": "g", "type": "nominal", "scale": {"domain": ["A", "B"], "range": ["#3cb43c", "#3b4da3"]}, "legend": null}}},
        {"data": {"name": "pv"}, "transform": [{"filter": "datum.p === 'TR'"}],
         "mark": {"type": "text", "font": "Open Sans", "fontSize": 27, "align": "left", "baseline": "alphabetic", "color": "#111"},
         "encoding": {"text": {"field": "label"}}}
      ]
    },
    {
      "width": 460, "height": 430,
      "encoding": {
        "x": {"field": "t", "type": "quantitative", "scale": {"domain": [-19, 422], "nice": false, "zero": false},
              "axis": {"values": [0, 100, 200, 300, 400], "title": "tiemposeguimiento", "titleY": 45, "titleBaseline": "alphabetic", "labelPadding": 5, "tickSize": 6}},
        "y": {"field": "s", "type": "quantitative", "scale": {"domain": [-0.049, 1.0593], "nice": false, "zero": false},
              "axis": {"values": [0, 0.2, 0.4, 0.6, 0.8, 1.0], "labelExpr": "replace(format(datum.value, '.1f'), '.', ',')", "title": "Mortalidad CV", "titleX": -49, "titleY": 223, "titleAngle": -90, "titleAlign": "center", "titleBaseline": "alphabetic"}}
      },
      "layer": [
        {"data": {"name": "km"}, "transform": [{"filter": "datum.p === 'BL'"}],
         "mark": {"type": "line", "interpolate": "step-after", "strokeWidth": 1.3},
         "encoding": {"color": {"field": "g", "type": "nominal", "scale": {"domain": ["A", "B"], "range": ["#3cb43c", "#3b4da3"]}, "legend": null}}},
        {"data": {"name": "cz"}, "transform": [{"filter": "datum.p === 'BL'"}],
         "mark": {"type": "point", "shape": "M-1,0H1M0,-1V1", "size": 56, "strokeWidth": 1.3, "filled": false, "opacity": 1},
         "encoding": {"color": {"field": "g", "type": "nominal", "scale": {"domain": ["A", "B"], "range": ["#3cb43c", "#3b4da3"]}, "legend": null}}},
        {"data": {"name": "pv"}, "transform": [{"filter": "datum.p === 'BL'"}],
         "mark": {"type": "text", "font": "Open Sans", "fontSize": 27, "align": "left", "baseline": "alphabetic", "color": "#111"},
         "encoding": {"text": {"field": "label"}}}
      ]
    },
    {
      "width": 472, "height": 430,
      "encoding": {
        "x": {"field": "t", "type": "quantitative", "scale": {"domain": [-22, 416], "nice": false, "zero": false},
              "axis": {"values": [0, 100, 200, 300, 400], "title": "tiemposeguimiento", "titleY": 45, "titleBaseline": "alphabetic", "labelPadding": 5, "tickSize": 6}},
        "y": {"field": "s", "type": "quantitative", "scale": {"domain": [-0.049, 1.0593], "nice": false, "zero": false}, "axis": null}
      },
      "layer": [
        {"data": {"name": "km"}, "transform": [{"filter": "datum.p === 'BR'"}],
         "mark": {"type": "line", "interpolate": "step-after", "strokeWidth": 1.3},
         "encoding": {"color": {"field": "g", "type": "nominal", "scale": {"domain": ["A", "B"], "range": ["#3cb43c", "#3b4da3"]}, "legend": null}}},
        {"data": {"name": "cz"}, "transform": [{"filter": "datum.p === 'BR'"}],
         "mark": {"type": "point", "shape": "M-1,0H1M0,-1V1", "size": 56, "strokeWidth": 1.3, "filled": false, "opacity": 1},
         "encoding": {"color": {"field": "g", "type": "nominal", "scale": {"domain": ["A", "B"], "range": ["#3cb43c", "#3b4da3"]}, "legend": null}}},
        {"data": {"name": "pv"}, "transform": [{"filter": "datum.p === 'BR'"}],
         "mark": {"type": "text", "font": "Open Sans", "fontSize": 27, "align": "left", "baseline": "alphabetic", "color": "#111"},
         "encoding": {"text": {"field": "label"}}}
      ]
    }
  ],
  "columns": 2,
  "spacing": {"row": 7, "column": 13},
  "config": {
    "view": {"fill": "#f0f0f0", "stroke": "#4d4d4d", "strokeWidth": 1.5},
    "axis": {"domain": false, "grid": false, "labelFont": "Liberation Sans", "labelFontSize": 11, "labelColor": "#333333", "labelPadding": 2, "tickColor": "#333333", "tickSize": 7, "tickWidth": 1.2, "titleColor": "#000000"},
    "axisY": {"titleFont": "Liberation Sans", "titleFontSize": 26, "titleFontWeight": "normal"},
    "axisX": {"titleFont": "Liberation Sans", "titleFontSize": 16, "titleFontWeight": "bold"},
    "title": {"font": "Open Sans", "fontSize": 26, "fontWeight": "normal", "anchor": "middle", "baseline": "alphabetic", "offset": 24, "color": "#000000"}
  }
}
